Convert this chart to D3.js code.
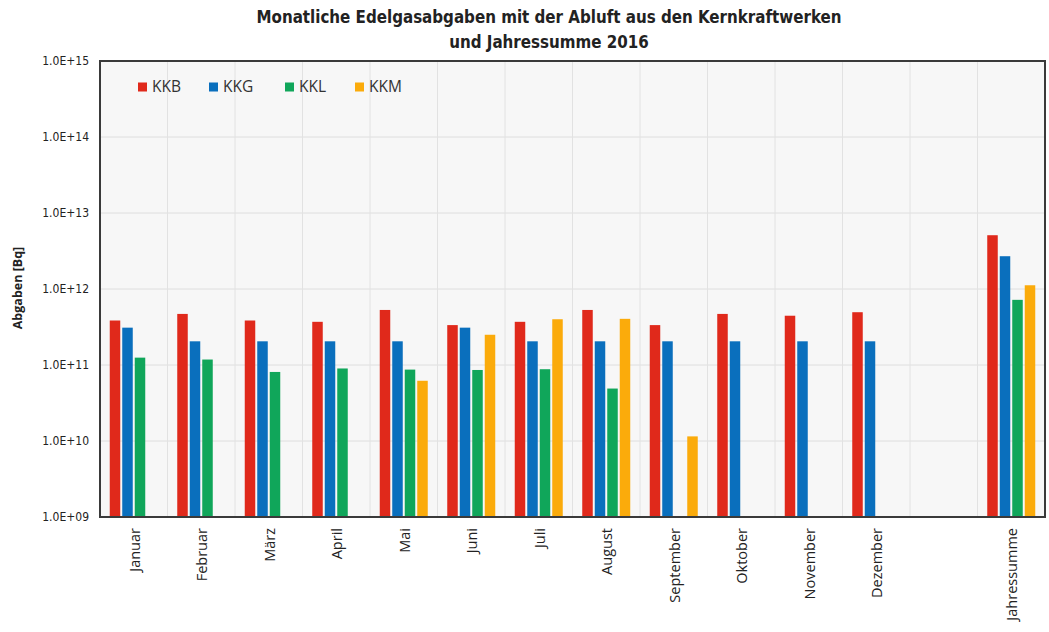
<!DOCTYPE html>
<html>
<head>
<meta charset="utf-8">
<script src="https://cdn.jsdelivr.net/npm/d3@7"></script>
<style>
  html, body { margin: 0; padding: 0; background: #ffffff; }
  svg { display: block; }
</style>
</head>
<body>
<svg id="chart" width="1049" height="632"></svg>
<script>
// ---- data ----
const categories = ["Januar", "Februar", "März", "April", "Mai", "Juni", "Juli", "August",
  "September", "Oktober", "November", "Dezember", "", "Jahressumme"];
const seriesNames = ["KKB", "KKG", "KKL", "KKM"];
const seriesColors = ["#e0291b", "#0a6fbd", "#10a65a", "#fbab0b"];
const KKB = [3.85e11, 4.7e11, 3.85e11, 3.7e11, 5.3e11, 3.35e11, 3.7e11, 5.3e11, 3.35e11, 4.7e11, 4.45e11, 4.95e11, null, 5.1e12];
const KKG = [3.1e11, 2.05e11, 2.05e11, 2.05e11, 2.05e11, 3.1e11, 2.05e11, 2.05e11, 2.05e11, 2.05e11, 2.05e11, 2.05e11, null, 2.7e12];
const KKL = [1.25e11, 1.18e11, 8.1e10, 9.0e10, 8.7e10, 8.6e10, 8.8e10, 4.9e10, null, null, null, null, null, 7.2e11];
const KKM = [null, null, null, null, 6.2e10, 2.5e11, 4.0e11, 4.05e11, 1.15e10, null, null, null, null, 1.12e12];
const yTickValues = [1e9, 1e10, 1e11, 1e12, 1e13, 1e14, 1e15];
const yTickLabels = ["1.0E+09", "1.0E+10", "1.0E+11", "1.0E+12", "1.0E+13", "1.0E+14", "1.0E+15"];
const titleLines = ["Monatliche Edelgasabgaben mit der Abluft aus den Kernkraftwerken", "und Jahressumme 2016"];
const yAxisTitle = "Abgaben [Bq]";

const seriesValues = [KKB, KKG, KKL, KKM];

// ---- layout ----
const svg = d3.select("#chart");
const m = { left: 100, right: 1045, top: 61, bottom: 517 };

const x = d3.scaleBand().domain(d3.range(categories.length)).range([m.left, m.right]).paddingInner(0).paddingOuter(0);
const groupW = 48;
const xi = d3.scaleBand().domain(d3.range(seriesNames.length)).range([0, groupW]).paddingInner(0.16).paddingOuter(0);
const y = d3.scaleLog().domain([1e9, 1e15]).range([m.bottom, m.top]);

const sans = "'Open Sans', 'DejaVu Sans', sans-serif";
const narrow = "'DejaVu Sans Condensed', 'Liberation Sans Narrow', sans-serif";

// plot background
svg.append("rect").attr("x", m.left).attr("y", m.top)
  .attr("width", m.right - m.left).attr("height", m.bottom - m.top).attr("fill", "#f7f7f7");

// horizontal grid
svg.append("g").selectAll("line").data(yTickValues).join("line")
  .attr("x1", m.left).attr("x2", m.right)
  .attr("y1", d => y(d)).attr("y2", d => y(d))
  .attr("stroke", "#dedede").attr("stroke-width", 1);

// vertical grid (band boundaries)
svg.append("g").selectAll("line").data(d3.range(1, categories.length)).join("line")
  .attr("x1", d => x(d)).attr("x2", d => x(d))
  .attr("y1", m.top).attr("y2", m.bottom)
  .attr("stroke", "#e2e2e2").attr("stroke-width", 1);

// bars
const gBars = svg.append("g");
seriesValues.forEach((vals, si) => {
  gBars.append("g").selectAll("rect")
    .data(vals.map((v, i) => ({ v, i })).filter(d => d.v != null))
    .join("rect")
    .attr("x", d => x(d.i) + (x.bandwidth() - groupW) / 2 + xi(si))
    .attr("width", xi.bandwidth())
    .attr("y", d => y(d.v))
    .attr("height", d => m.bottom - y(d.v))
    .attr("fill", seriesColors[si]);
});

// border
svg.append("rect").attr("x", m.left).attr("y", m.top)
  .attr("width", m.right - m.left).attr("height", m.bottom - m.top)
  .attr("fill", "none").attr("stroke", "#3a3a3a").attr("stroke-width", 2);

// y axis
const yAxis = d3.axisLeft(y).tickValues(yTickValues)
  .tickFormat((d, i) => yTickLabels[i]).tickSize(0).tickPadding(11);
const gy = svg.append("g").attr("transform", `translate(${m.left},0)`).call(yAxis);
gy.select(".domain").remove();
gy.selectAll("text").attr("font-family", narrow).attr("font-size", 12).attr("fill", "#222");

// x axis
const xAxis = d3.axisBottom(x).tickFormat(i => categories[i]).tickSize(0).tickPadding(0);
const gx = svg.append("g").attr("transform", `translate(0,${m.bottom})`).call(xAxis);
gx.select(".domain").remove();
gx.selectAll("text")
  .attr("font-family", sans).attr("font-size", 14.5).attr("fill", "#222")
  .attr("transform", "rotate(-90)")
  .attr("text-anchor", "end")
  .attr("x", -11).attr("y", 1).attr("dy", "0.35em");

// y axis title
svg.append("text")
  .attr("transform", "translate(22,288) rotate(-90)")
  .attr("text-anchor", "middle")
  .attr("font-family", sans).attr("font-weight", "bold").attr("font-size", 12.5)
  .attr("fill", "#222").text(yAxisTitle);

// title
svg.append("g").selectAll("text").data(titleLines).join("text")
  .attr("x", 549).attr("y", (d, i) => 23 + i * 25)
  .attr("text-anchor", "middle")
  .attr("font-family", narrow).attr("font-weight", "bold").attr("font-size", 16.8)
  .attr("fill", "#222").text(d => d);

// legend
const legendX = [138, 209, 285, 355];
const lg = svg.append("g").selectAll("g").data(seriesNames).join("g")
  .attr("transform", (d, i) => `translate(${legendX[i]},87)`);
lg.append("rect").attr("x", 0).attr("y", -4.5).attr("width", 9).attr("height", 9)
  .attr("fill", (d, i) => seriesColors[i]);
lg.append("text").attr("x", 14).attr("y", 0).attr("dy", "0.35em")
  .attr("font-family", sans).attr("font-size", 15.5).attr("fill", "#333").text(d => d);
</script>
</body>
</html>
